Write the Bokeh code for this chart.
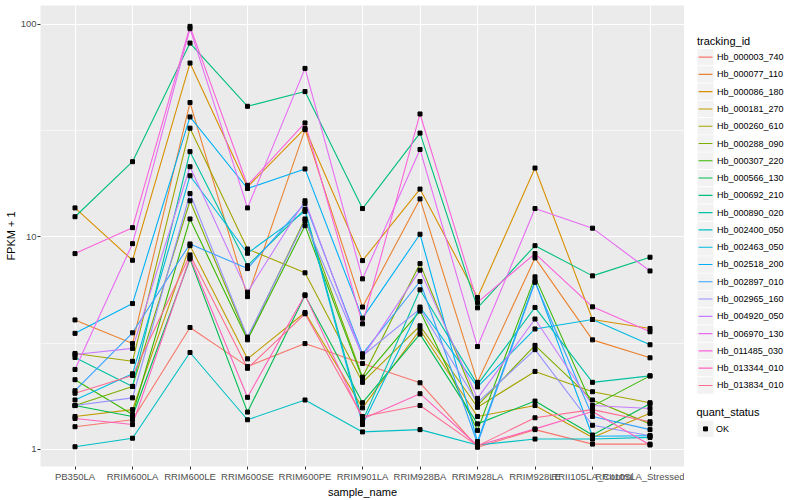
import numpy as np
from bokeh.plotting import figure
from bokeh.models import FixedTicker, Range1d, BasicTickFormatter
from bokeh.layouts import row
from bokeh.embed import file_html
from bokeh.resources import INLINE
from bokeh.core.properties import value

samples = ["PB350LA", "RRIM600LA", "RRIM600LE", "RRIM600SE", "RRIM600PE", "RRIM901LA",
           "RRIM928BA", "RRIM928LA", "RRIM928LE", "RRII105LA_Control", "RRII105LA_Stressed"]

tracking_ids = ["Hb_000003_740", "Hb_000077_110", "Hb_000086_180", "Hb_000181_270",
                "Hb_000260_610", "Hb_000288_090", "Hb_000307_220", "Hb_000566_130",
                "Hb_000692_210", "Hb_000890_020", "Hb_002400_050", "Hb_002463_050",
                "Hb_002518_200", "Hb_002897_010", "Hb_002965_160", "Hb_004920_050",
                "Hb_006970_130", "Hb_011485_030", "Hb_013344_010", "Hb_013834_010"]

colors = ["#F8766D", "#EA8331", "#D89000", "#C09B00", "#A3A500", "#7CAE00", "#39B600",
          "#00BB4E", "#00BF7D", "#00C1A3", "#00BFC4", "#00BAE0", "#00B0F6", "#35A2FF",
          "#9590FF", "#C77CFF", "#E76BF3", "#FA62DB", "#FF62BC", "#FF6C91"]

# FPKM + 1 per sample (order of `samples`)
hb_000003_740 = [1.28, 1.38, 3.75, 2.46, 3.15, 2.54, 2.06, 1.025, 1.24, 1.06, 1.06]
hb_000077_110 = [4.07, 3.15, 42.9, 5.24, 32.0, 4.68, 15.1, 2.07, 7.97, 3.28, 2.70]
hb_000086_180 = [13.7, 7.77, 65.8, 17.2, 32.4, 7.74, 16.8, 5.19, 21.1, 4.09, 3.71]
hb_000181_270 = [1.43, 1.54, 9.1, 2.67, 4.41, 1.57, 3.66, 1.43, 1.61, 1.14, 1.48]
hb_000260_610 = [2.83, 2.60, 32.5, 8.78, 6.78, 2.07, 3.82, 1.58, 2.33, 1.87, 1.66]
hb_000288_090 = [1.61, 1.98, 14.8, 3.33, 12.15, 2.19, 7.49, 1.61, 3.09, 1.71, 1.32]
hb_000307_220 = [2.13, 1.46, 12.15, 3.28, 11.3, 2.15, 4.48, 1.23, 6.49, 1.60, 2.22]
hb_000566_130 = [1.61, 1.43, 7.88, 1.50, 5.30, 1.66, 3.49, 1.32, 1.69, 1.17, 1.64]
hb_000692_210 = [12.45, 22.6, 81.7, 41.2, 48.3, 13.6, 30.8, 4.64, 9.1, 6.56, 8.03]
hb_000890_020 = [2.71, 1.98, 25.2, 7.33, 13.5, 1.36, 5.64, 2.02, 4.66, 2.07, 2.22]
hb_002400_050 = [1.03, 1.13, 2.86, 1.38, 1.71, 1.21, 1.24, 1.05, 1.12, 1.12, 1.14]
hb_002463_050 = [1.71, 2.27, 19.4, 8.38, 13.2, 1.31, 4.68, 1.97, 3.69, 4.09, 3.11]
hb_002518_200 = [3.52, 4.86, 36.7, 16.9, 20.9, 4.15, 10.3, 1.09, 6.21, 1.155, 1.16]
hb_002897_010 = [1.89, 3.54, 9.27, 7.1, 14.4, 2.82, 6.17, 1.067, 6.12, 1.43, 1.24]
hb_002965_160 = [1.61, 1.75, 16.0, 3.38, 11.9, 2.76, 4.59, 1.66, 2.95, 1.30, 1.16]
hb_004920_050 = [2.80, 2.99, 21.4, 5.50, 14.8, 2.72, 6.98, 1.74, 4.11, 1.61, 1.56]
hb_006970_130 = [2.38, 9.30, 95.5, 13.7, 62.1, 6.35, 25.8, 3.05, 13.6, 11.0, 6.92]
hb_011485_030 = [8.35, 11.06, 97.9, 17.5, 34.4, 3.90, 37.9, 4.92, 8.35, 4.69, 3.58]
hb_013344_010 = [1.40, 1.31, 8.0, 1.76, 5.34, 1.39, 1.83, 1.044, 1.25, 1.51, 1.05]
hb_013834_010 = [1.84, 2.23, 8.23, 2.41, 4.35, 1.43, 1.61, 1.04, 1.41, 1.54, 1.35]

series = [hb_000003_740, hb_000077_110, hb_000086_180, hb_000181_270, hb_000260_610,
          hb_000288_090, hb_000307_220, hb_000566_130, hb_000692_210, hb_000890_020,
          hb_002400_050, hb_002463_050, hb_002518_200, hb_002897_010, hb_002965_160,
          hb_004920_050, hb_006970_130, hb_011485_030, hb_013344_010, hb_013834_010]

quant_levels = ["OK"]

FONT = "Liberation Sans"
xs = list(range(len(samples)))

MAIN_W, H, LEG_W = 684, 500, 116
TOP = 5
BOTTOM_AXIS = 33

p = figure(width=MAIN_W, height=H, y_axis_type="log",
           x_range=Range1d(-0.6, len(samples) - 0.4),
           y_range=Range1d(10 ** -0.08, 10 ** 2.089),
           output_backend="svg", toolbar_location=None,
           min_border_left=40, min_border_right=0, min_border_top=TOP, min_border_bottom=31)
p.background_fill_color = "#EBEBEB"
p.border_fill_color = "white"
p.outline_line_color = None

for vals, col in zip(series, colors):
    p.line(xs, vals, line_color=col, line_width=1.1)
for vals in series:
    p.scatter(xs, vals, marker="square", size=4, color="black")

# axes
p.xaxis.ticker = FixedTicker(ticks=xs)
p.xaxis.major_label_overrides = {i: s for i, s in enumerate(samples)}
p.yaxis.ticker = FixedTicker(ticks=[1, 10, 100])
p.yaxis.formatter = BasicTickFormatter()
for ax in (p.xaxis[0], p.yaxis[0]):
    ax.axis_line_color = None
    ax.major_tick_line_color = "#333333"
    ax.major_tick_out = 3
    ax.major_tick_in = 0
    ax.minor_tick_line_color = None
    ax.major_label_text_font = FONT
    ax.major_label_text_font_size = "9.5px"
    ax.major_label_text_color = "#4D4D4D"
    ax.major_label_standoff = 1
    ax.axis_label_text_font = FONT
    ax.axis_label_text_font_size = "11px"
    ax.axis_label_text_font_style = "normal"
    ax.axis_label_text_color = "black"
    ax.axis_label_standoff = 1
p.xaxis.axis_label = "sample_name"
p.yaxis.axis_label = "FPKM + 1"

p.xgrid.ticker = FixedTicker(ticks=xs)
p.xgrid.grid_line_color = "white"
p.xgrid.grid_line_width = 1.1
p.ygrid.ticker = FixedTicker(ticks=[1, 10, 100], minor_ticks=[10 ** 0.5, 10 ** 1.5])
p.ygrid.grid_line_color = "white"
p.ygrid.grid_line_width = 1.1
p.ygrid.minor_grid_line_color = "white"
p.ygrid.minor_grid_line_width = 0.6

# legend panel, drawn in page pixel coordinates (its frame is aligned with the main frame)
X0 = MAIN_W
lg = figure(width=LEG_W, height=H, x_range=Range1d(X0, X0 + LEG_W),
            y_range=Range1d(H - BOTTOM_AXIS, TOP),
            output_backend="svg", toolbar_location=None,
            min_border_left=0, min_border_right=0, min_border_top=TOP, min_border_bottom=0)
lg.axis.visible = False
lg.grid.visible = False
lg.outline_line_color = None
lg.background_fill_color = "white"
lg.border_fill_color = "white"

n = len(tracking_ids)
row_y = [56.7 + 17.32 * i for i in range(n)]
lg.text(x=[696.5], y=[40.5], text=["tracking_id"], text_font=value(FONT),
        text_font_size="11px", text_baseline="middle", text_color="black")
lg.rect(x=[705] * n, y=row_y, width=16, height=16.4, fill_color="#F2F2F2", line_color=None)
lg.segment(x0=[698] * n, y0=row_y, x1=[712] * n, y1=row_y, line_color=colors, line_width=1.1)
lg.text(x=[716.5] * n, y=row_y, text=tracking_ids, text_font=value(FONT),
        text_font_size="9px", text_baseline="middle", text_color="black")

q_y = [429.3 + 17.32 * i for i in range(len(quant_levels))]
lg.text(x=[696], y=[412.3], text=["quant_status"], text_font=value(FONT),
        text_font_size="11px", text_baseline="middle", text_color="black")
lg.rect(x=[705] * len(q_y), y=q_y, width=16, height=16.4, fill_color="#F2F2F2", line_color=None)
lg.scatter(x=[705] * len(q_y), y=q_y, marker="square", size=4, color="black")
lg.text(x=[715.5] * len(q_y), y=q_y, text=quant_levels, text_font=value(FONT),
        text_font_size="9px", text_baseline="middle", text_color="black")

layout = row(p, lg)
open("out.html", "w").write(file_html(layout, INLINE))
